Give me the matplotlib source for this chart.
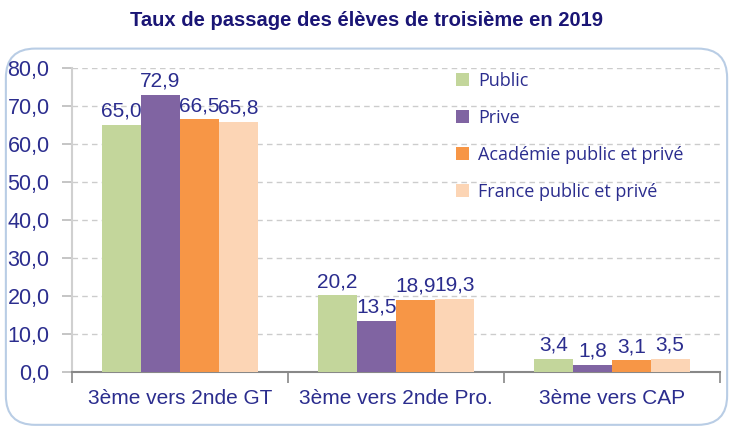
import matplotlib
matplotlib.use('Agg')
import matplotlib.pyplot as plt
import numpy as np
from matplotlib.patches import FancyBboxPatch

categories = ['3ème vers 2nde GT', '3ème vers 2nde Pro.', '3ème vers CAP']
series = ['Public', 'Prive', 'Académie public et privé', 'France public et privé']
public = [65.0, 20.2, 3.4]
prive = [72.9, 13.5, 1.8]
academie = [66.5, 18.9, 3.1]
france = [65.8, 19.3, 3.5]
colors = ['#C3D69B', '#8064A2', '#F79646', '#FCD5B5']

navy = '#2B2D8E'
plt.rcParams['font.family'] = ['Liberation Sans', 'DejaVu Sans']

fig = plt.figure(figsize=(7.33, 4.30), dpi=100)
# cadre arrondi
box = FancyBboxPatch((0.008, 0.012), 0.984, 0.875, boxstyle='round,pad=0,rounding_size=0.04',
                     transform=fig.transFigure, fc='white', ec='#B9CDE5', lw=1.5,
                     mutation_aspect=733/430, zorder=-1)
fig.patches.append(box)

fig.text(0.5, 0.952, 'Taux de passage des élèves de troisième en 2019', ha='center', va='center',
         fontsize=14.5, fontweight='bold', color='#1A1575',
         family=['Liberation Sans Narrow', 'Liberation Sans'])

ax = fig.add_axes([0.098, 0.135, 0.884, 0.707])
ax.set_facecolor('none')

x = np.arange(len(categories))
w = 0.18
data = [public, prive, academie, france]
for i in range(4):
    bars = ax.bar(x + (i - 1.5) * w, data[i], w, color=colors[i], label=series[i], zorder=3)
    ax.bar_label(bars, labels=[('%.1f' % v).replace('.', ',') for v in data[i]],
                 padding=3, fontsize=15, color=navy)

ax.set_ylim(0, 80)
ax.set_xlim(-0.5, 2.5)
ax.set_yticks(np.arange(0, 81, 10))
ax.set_yticklabels([('%.1f' % v).replace('.', ',') for v in np.arange(0, 81, 10)])
ax.yaxis.grid(True, ls=(0, (4, 3)), color='#CCCCCC', lw=1, zorder=0)
ax.tick_params(axis='y', labelsize=15.5, labelcolor=navy, color='#BBBBBB', length=7, width=1.2, pad=9)

ax.set_xticks([-0.5, 0.5, 1.5, 2.5])
ax.set_xticklabels([])
ax.set_xticks(x, minor=True)
ax.set_xticklabels(categories, minor=True)
ax.tick_params(axis='x', which='major', length=8, color='#888888', width=1.2)
ax.tick_params(axis='x', which='minor', length=0, labelsize=15, labelcolor=navy, pad=12)

for s in ['top', 'right']:
    ax.spines[s].set_visible(False)
ax.spines['left'].set_color('#D0D0D0')
ax.spines['left'].set_linewidth(1.5)
ax.spines['bottom'].set_color('#888888')
ax.spines['bottom'].set_linewidth(1.5)

leg = ax.legend(loc='upper left', bbox_to_anchor=(0.568, 1.04), frameon=False,
                handlelength=0.7, handleheight=0.7, handletextpad=0.5, labelspacing=1.05,
                labelcolor=navy, prop={'family': ['Open Sans', 'DejaVu Sans'], 'size': 13})

fig.savefig('out.png', dpi=100)
